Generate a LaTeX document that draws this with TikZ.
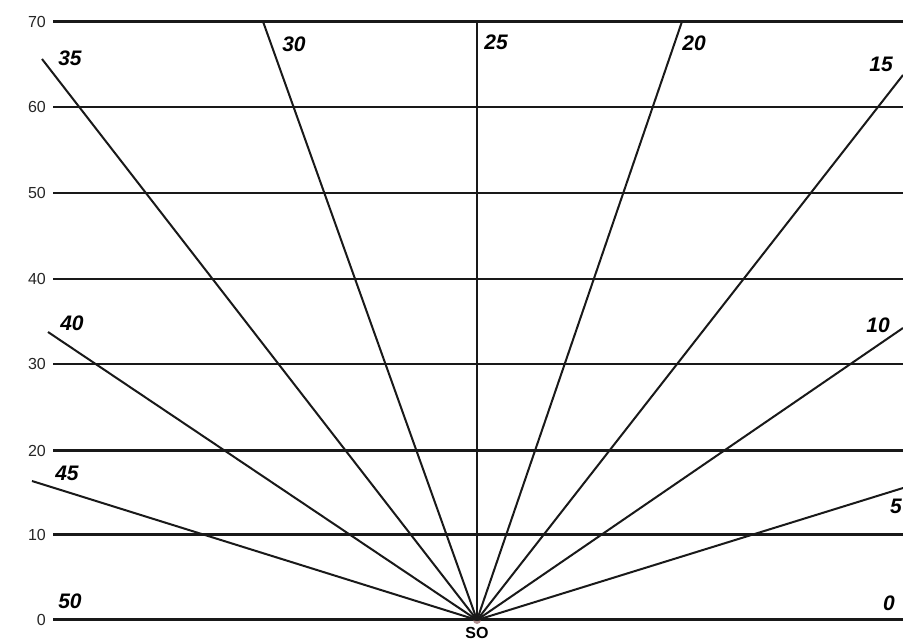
\documentclass[tikz,border=0pt]{standalone}
\usepackage{fontspec}
\setmainfont{Liberation Sans}
\begin{document}
\begin{tikzpicture}[x=1pt,y=-1pt,
  grid/.style={line width=2.3pt,black!90},
  ray/.style={line width=2pt,black!90},
  axlab/.style={font=\fontsize{16}{16}\selectfont,text=black!85,inner sep=0pt},
  anglab/.style={font=\fontsize{21}{21}\selectfont\bfseries\itshape,inner sep=0pt},
  solab/.style={font=\fontsize{16}{16}\selectfont\bfseries,inner sep=0pt}]
\useasboundingbox[fill=white] (0,0) rectangle (903,642);
\clip (0,0) rectangle (903,642);
% horizontal lines and axis labels
\foreach \v/\yy in {0/619.5,10/534.5,20/450.5,30/364,40/279,50/193,60/107,70/21.5}{
  \coordinate (L\v) at (53,\yy);
  \coordinate (R\v) at (903,\yy);
  \draw[grid] (L\v) -- (R\v);
  \node[axlab,anchor=east] (ax\v) at (46,\yy) {\v};
}
% origin
\coordinate (SO) at (477,620);
\fill[fill={rgb,1:red,0.5;green,0.3;blue,0.3},opacity=0.6] (SO) circle (4);
% ray end points
\coordinate (E5) at (903,488);
\coordinate (E10) at (903,328);
\coordinate (E15) at (903,75);
\coordinate (E20) at (682,21.5);
\coordinate (E25) at (477,21.5);
\coordinate (E30) at (263,21.5);
\coordinate (E35) at (42,59);
\coordinate (E40) at (48,332);
\coordinate (E45) at (32,481);
\foreach \r in {5,10,15,20,25,30,35,40,45}{
  \draw[ray] (SO) -- (E\r);
}
% angle labels
\node[anglab] (a35) at (70,58) {35};
\node[anglab] (a30) at (294,44) {30};
\node[anglab] (a25) at (496,42) {25};
\node[anglab] (a20) at (694,43) {20};
\node[anglab] (a15) at (881,64) {15};
\node[anglab] (a40) at (72,323) {40};
\node[anglab] (a10) at (878,325) {10};
\node[anglab] (a45) at (67,473) {45};
\node[anglab] (a5) at (896,506) {5};
\node[anglab] (a50) at (70,601) {50};
\node[anglab] (a0) at (889,603) {0};
\node[solab] (so) at (477,633) {SO};
\end{tikzpicture}
\end{document}
